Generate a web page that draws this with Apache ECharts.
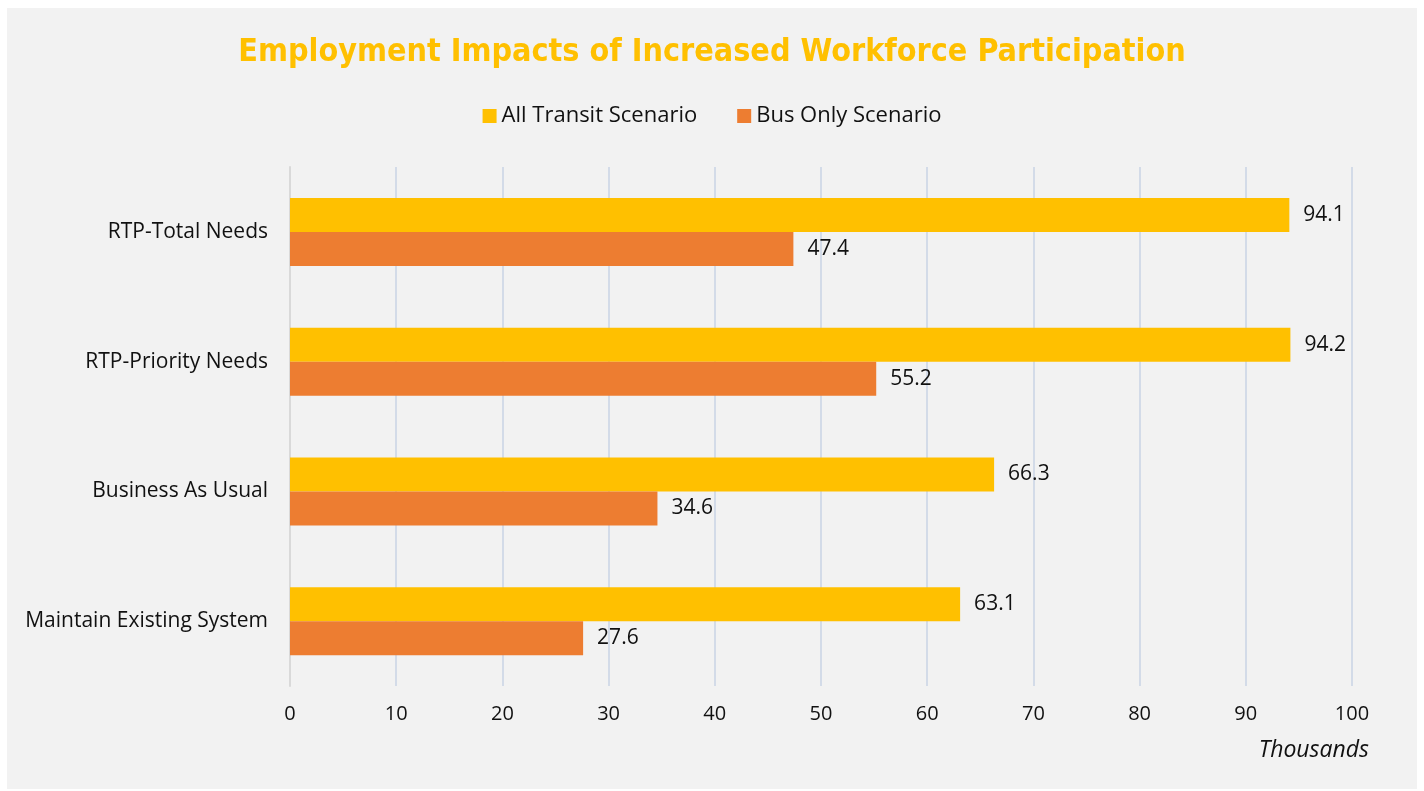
<!DOCTYPE html>
<html>
<head>
<meta charset="utf-8">
<script src="https://cdn.jsdelivr.net/npm/echarts@6/dist/echarts.min.js"></script>
<style>
  html, body { margin: 0; padding: 0; background: #ffffff; }
  #chart {
    position: absolute;
    left: 7px;
    top: 8px;
    width: 1410px;
    height: 781px;
    background: #f2f2f2;
  }
</style>
</head>
<body>
<div id="chart"></div>
<script>
  // categories top to bottom
  const categories = ['RTP-Total Needs', 'RTP-Priority Needs', 'Business As Usual', 'Maintain Existing System'];
  const allTransit = [94.1, 94.2, 66.3, 63.1];
  const busOnly = [47.4, 55.2, 34.6, 27.6];
  const seriesNames = ['All Transit Scenario', 'Bus Only Scenario'];

  const textFont = '"Open Sans", "Noto Sans", sans-serif';

  var myChart = echarts.init(document.getElementById('chart'));
  myChart.setOption({
    animation: false,
    title: {
      text: 'Employment Impacts of Increased Workforce Participation',
      left: 'center',
      top: 24,
      textStyle: {
        color: '#ffc000',
        fontSize: 32,
        fontWeight: 'bold',
        fontFamily: '"Liberation Sans Narrow", "DejaVu Sans Condensed", sans-serif'
      }
    },
    legend: {
      top: 92,
      left: 'center',
      itemWidth: 14,
      itemHeight: 14,
      itemGap: 40,
      icon: 'rect',
      textStyle: { fontSize: 22, color: '#111', fontFamily: textFont }
    },
    grid: {
      left: 283,
      right: 65,
      top: 159,
      bottom: 103
    },
    xAxis: {
      type: 'value',
      min: 0,
      max: 100,
      interval: 10,
      axisLine: { show: false },
      axisTick: { show: false },
      axisLabel: { fontSize: 20, color: '#111', margin: 18, fontFamily: textFont },
      splitLine: { lineStyle: { color: '#d3dbe8', width: 2 } }
    },
    yAxis: {
      type: 'category',
      data: categories,
      inverse: true,
      axisLine: { lineStyle: { color: '#d9d9d9', width: 2 } },
      axisTick: { show: false },
      axisLabel: { fontSize: 21, color: '#111', margin: 22, fontFamily: textFont }
    },
    graphic: [{
      type: 'text',
      right: 48,
      top: 731,
      style: {
        text: 'Thousands',
        fill: '#111',
        font: 'italic 23px ' + textFont
      }
    }],
    series: [
      {
        name: seriesNames[0],
        type: 'bar',
        data: allTransit,
        barWidth: 34,
        barGap: '0%',
        itemStyle: { color: '#ffc000' },
        label: { show: true, position: 'right', distance: 14, fontSize: 21, color: '#111', fontFamily: textFont }
      },
      {
        name: seriesNames[1],
        type: 'bar',
        data: busOnly,
        barWidth: 34,
        barGap: '0%',
        itemStyle: { color: '#ed7d31' },
        label: { show: true, position: 'right', distance: 14, fontSize: 21, color: '#111', fontFamily: textFont }
      }
    ]
  });
</script>
</body>
</html>
